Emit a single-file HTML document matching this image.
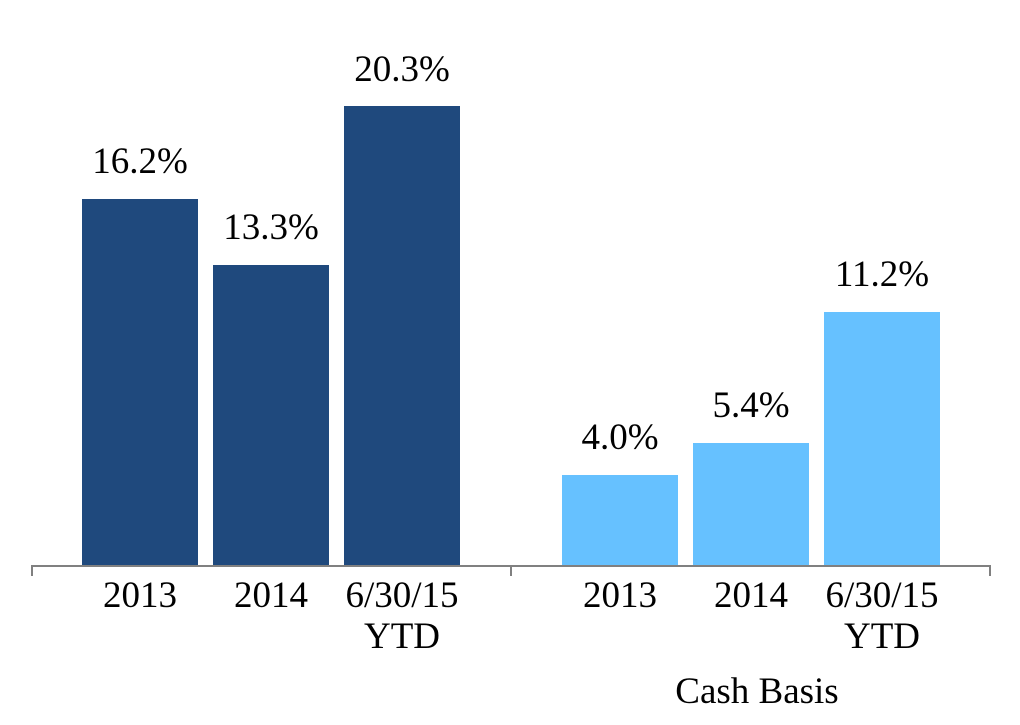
<!DOCTYPE html>
<html><head><style>body{margin:0;background:#fff}</style></head><body>
<svg width="1020" height="720" xmlns="http://www.w3.org/2000/svg" font-family="Liberation Serif, serif" font-size="37" fill="#000">
<rect x="82" y="199" width="116" height="367" fill="#1f497d"/>
<rect x="213" y="265" width="116" height="301" fill="#1f497d"/>
<rect x="344" y="106" width="116" height="460" fill="#1f497d"/>
<rect x="562" y="475" width="116" height="91" fill="#66c1ff"/>
<rect x="693" y="443" width="116" height="123" fill="#66c1ff"/>
<rect x="824" y="312" width="116" height="254" fill="#66c1ff"/>
<path d="M32 576V566H990V576M511 566V576" stroke="#808080" stroke-width="2" fill="none"/>
<g text-anchor="middle">
<text x="140" y="173">16.2%</text>
<text x="271" y="239">13.3%</text>
<text x="402" y="81">20.3%</text>
<text x="620" y="449">4.0%</text>
<text x="751" y="417">5.4%</text>
<text x="882" y="286">11.2%</text>
<text x="140" y="607">2013</text>
<text x="271" y="607">2014</text>
<text x="402" y="607">6/30/15</text>
<text x="402" y="648">YTD</text>
<text x="620" y="607">2013</text>
<text x="751" y="607">2014</text>
<text x="882" y="607">6/30/15</text>
<text x="882" y="648">YTD</text>
<text x="757" y="703">Cash Basis</text>
</g>
</svg>
</body></html>
